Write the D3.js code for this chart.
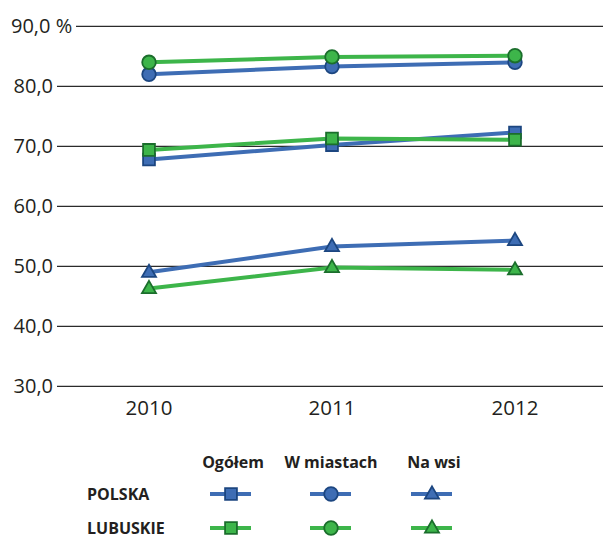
<!DOCTYPE html>
<html><head><meta charset="utf-8">
<script src="https://cdn.jsdelivr.net/npm/d3@7"></script>
<style>body{margin:0;background:#fff}svg{display:block}</style>
</head><body>
<svg id="c" width="603" height="538"></svg>
<script>
const years = ["2010","2011","2012"];
const yTicks = [30,40,50,60,70,80,90];
const polskaOgolem = [67.8, 70.2, 72.3];
const polskaMiasta = [82.0, 83.3, 84.0];
const polskaWies = [49.0, 53.3, 54.3];
const lubuskieOgolem = [69.4, 71.3, 71.1];
const lubuskieMiasta = [84.0, 84.9, 85.1];
const lubuskieWies = [46.3, 49.8, 49.4];
const columns = ["Ogółem","W miastach","Na wsi"];
const rows = ["POLSKA","LUBUSKIE"];

const colors = {POLSKA:{line:"#3e6db4",fill:"#3e6db4",stroke:"#1c4680"},
                LUBUSKIE:{line:"#3db54a",fill:"#3db54a",stroke:"#1b6e2c"}};
const shapes = [d3.symbolSquare, d3.symbolCircle, d3.symbolTriangle];

const series = [
  {region:"POLSKA", kind:0, values:polskaOgolem},
  {region:"POLSKA", kind:1, values:polskaMiasta},
  {region:"POLSKA", kind:2, values:polskaWies},
  {region:"LUBUSKIE", kind:0, values:lubuskieOgolem},
  {region:"LUBUSKIE", kind:1, values:lubuskieMiasta},
  {region:"LUBUSKIE", kind:2, values:lubuskieWies}
];

const svg = d3.select("#c");
const font = "'Open Sans', sans-serif";
const y = d3.scaleLinear().domain([30,90]).range([386.3,26.3]);
const x = d3.scalePoint().domain(years).range([149,515]);

const g = svg.append("g");
yTicks.forEach(t=>{
  g.append("line").attr("x1", t===90?76:57).attr("x2",603)
   .attr("y1",y(t)).attr("y2",y(t)).attr("stroke","#2b2b2b").attr("stroke-width",1.2);
  g.append("text").attr("x",t===90?11:53).attr("y",y(t)+7)
   .attr("text-anchor",t===90?"start":"end")
   .attr("font-family",font).attr("font-size",20).attr("fill","#231f20")
   .text(d3.format(".1f")(t).replace(".",",") + (t===90?" %":""));
});
years.forEach(yr=>{
  g.append("text").attr("x",x(yr)).attr("y",414.5).attr("text-anchor","middle")
   .attr("font-family",font).attr("font-size",20.5).attr("fill","#231f20").text(yr);
});

const line = d3.line().x((d,i)=>x(years[i])).y(d=>y(d));
const symSize = [140,145,85];
function symPath(k){ return d3.symbol().type(shapes[k]).size(symSize[k])(); }
function triOffset(k){ return k===2?0.5:0; }

series.forEach(s=>{
  svg.append("path").attr("d",line(s.values)).attr("fill","none")
   .attr("stroke",colors[s.region].line).attr("stroke-width",4);
});
series.forEach(s=>{
  s.values.forEach((v,i)=>{
    svg.append("path").attr("d",symPath(s.kind))
     .attr("transform",`translate(${x(years[i])},${y(v)+triOffset(s.kind)})`)
     .attr("fill",colors[s.region].fill).attr("stroke",colors[s.region].stroke).attr("stroke-width",1.8);
  });
});

const colX = [231,331,432];
const leg = svg.append("g");
columns.forEach((c,i)=>{
  leg.append("text").attr("x",colX[i]+(i===0?2:i===2?2:0)).attr("y",468).attr("text-anchor","middle")
   .attr("font-family",font).attr("font-weight","bold").attr("font-size",16).attr("fill","#231f20").text(c);
});
const rowY = [494,528];
rows.forEach((r,ri)=>{
  leg.append("text").attr("x",87).attr("y",rowY[ri]+5.5)
   .attr("font-family",font).attr("font-weight","bold").attr("font-size",16).attr("fill","#231f20").text(r);
  columns.forEach((c,ci)=>{
    leg.append("line").attr("x1",colX[ci]-21).attr("x2",colX[ci]+20)
     .attr("y1",rowY[ri]).attr("y2",rowY[ri]).attr("stroke",colors[r].line).attr("stroke-width",4);
    leg.append("path").attr("d",symPath(ci))
     .attr("transform",`translate(${colX[ci]},${rowY[ri]+triOffset(ci)})`)
     .attr("fill",colors[r].fill).attr("stroke",colors[r].stroke).attr("stroke-width",1.8);
  });
});
</script>
</body></html>
